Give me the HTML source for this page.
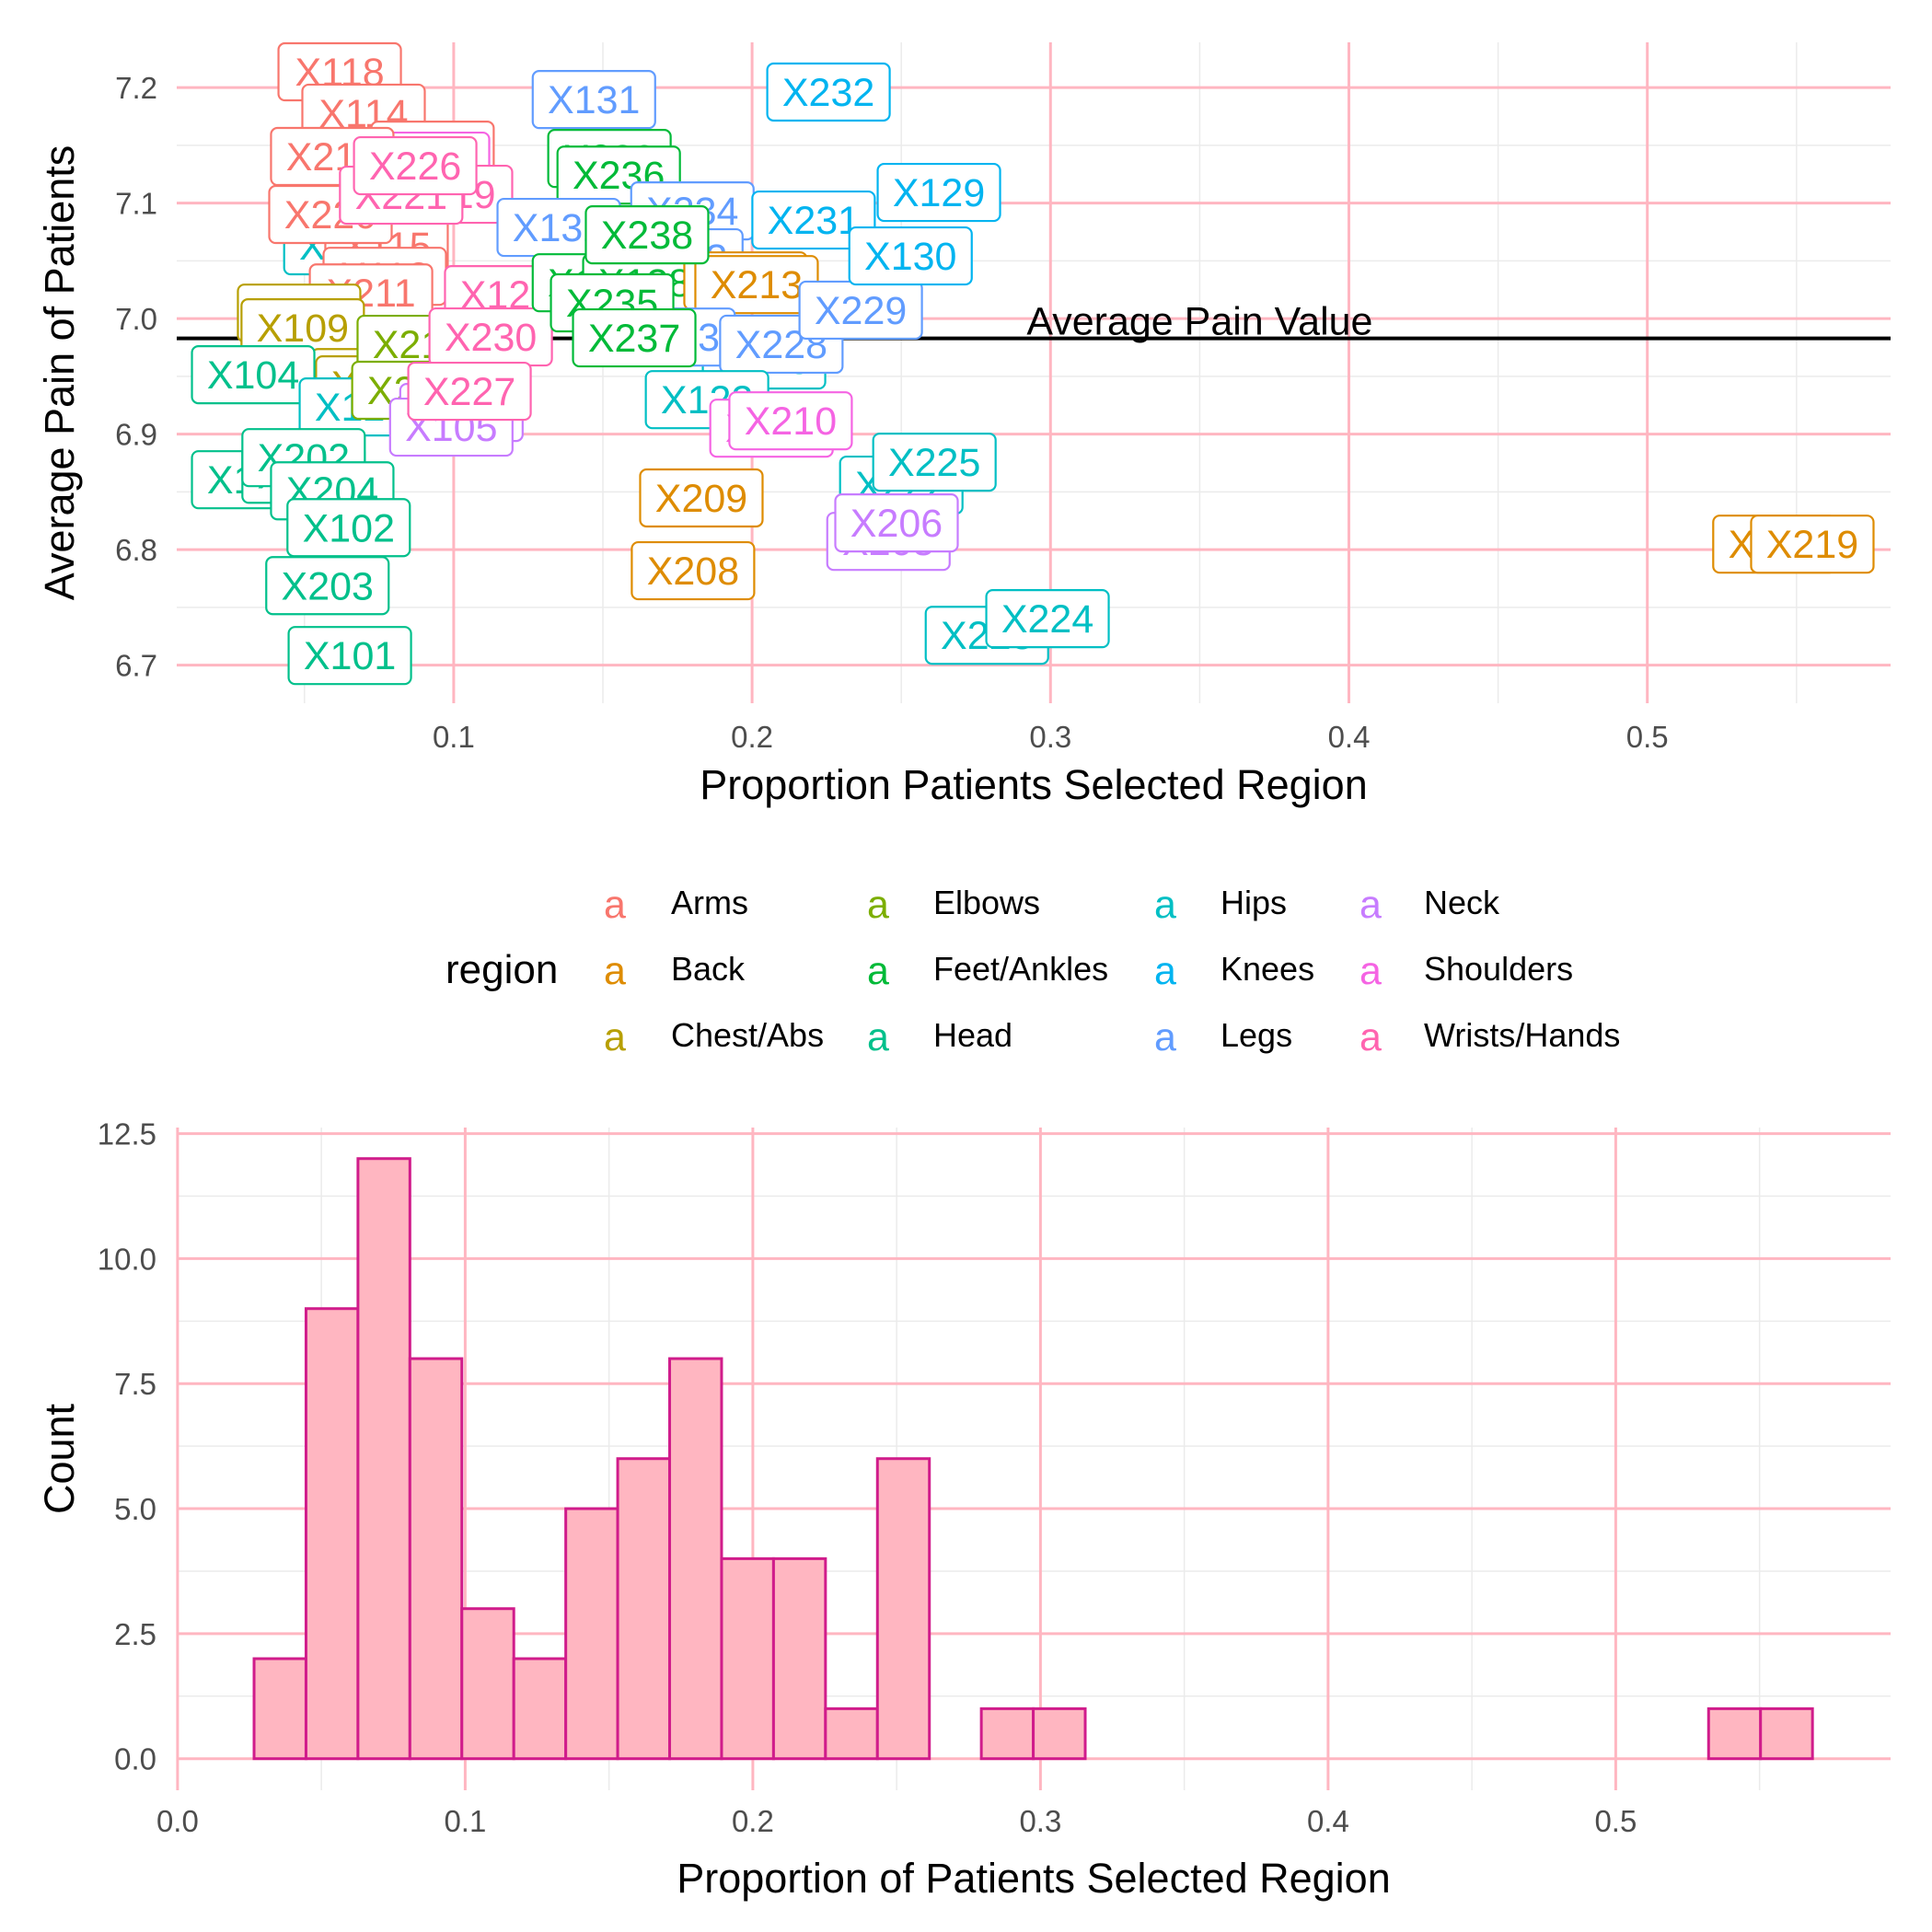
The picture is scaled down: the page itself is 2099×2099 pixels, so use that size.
<!DOCTYPE html>
<html><head><meta charset="utf-8"><style>
html,body{margin:0;padding:0;background:#fff;}
svg{display:block;font-family:"Liberation Sans",sans-serif;}
</style></head><body>
<svg id="chart" width="2099" height="2099" viewBox="0 0 2099 2099">
<g id="topPanel"></g>
<g id="legend"></g>
<g id="hist"></g>
</svg>
<script>
// ---- scatter (label) data ----
const labelNames = ["X127","X115","X220","X118","X114","X116","X117","X215","X119","X221","X226","X112","X211","X110","X109","X120","X107","X108","X104","X124","X212","X214","X230","X106","X105","X227","X103","X201","X202","X204","X102","X203","X101","X131","X239","X236","X234","X132","X133","X137","X138","X216","X213","X238","X123","X233","X235","X237","X228","X229","X232","X129","X231","X130","X122","X207","X210","X209","X208","X222","X225","X205","X206","X223","X224","X218","X219"];
const labelRegions = ["Hips","Arms","Arms","Arms","Arms","Arms","Shoulders","Arms","Wrists/Hands","Wrists/Hands","Wrists/Hands","Arms","Arms","Chest/Abs","Chest/Abs","Wrists/Hands","Chest/Abs","Chest/Abs","Head","Hips","Elbows","Elbows","Wrists/Hands","Neck","Neck","Wrists/Hands","Head","Head","Head","Head","Head","Head","Head","Legs","Feet/Ankles","Feet/Ankles","Legs","Legs","Legs","Feet/Ankles","Feet/Ankles","Back","Back","Feet/Ankles","Hips","Legs","Feet/Ankles","Feet/Ankles","Legs","Legs","Knees","Knees","Knees","Knees","Hips","Shoulders","Shoulders","Back","Back","Hips","Hips","Neck","Neck","Hips","Hips","Back","Back"];
const labelProp = [0.0637,0.0775,0.0587,0.0618,0.0698,0.0929,0.0914,0.0593,0.0991,0.0824,0.0871,0.0769,0.0723,0.0482,0.0494,0.1176,0.0729,0.0744,0.0328,0.0689,0.0883,0.0865,0.1124,0.1026,0.0992,0.1053,0.0328,0.0497,0.0497,0.0593,0.0648,0.0577,0.0652,0.1470,0.1522,0.1553,0.1800,0.1352,0.1763,0.1470,0.1639,0.1978,0.2015,0.1648,0.2040,0.1737,0.1531,0.1605,0.2098,0.2364,0.2256,0.2626,0.2206,0.2531,0.1849,0.2065,0.2129,0.1830,0.1802,0.2500,0.2611,0.2457,0.2484,0.2787,0.2990,0.5426,0.5553];
const labelPain = [7.0630,7.0630,7.0901,7.2136,7.1778,7.1458,7.1363,7.1403,7.1076,7.1068,7.1323,7.0366,7.0222,7.0047,6.9920,7.0207,6.9489,6.9426,6.9514,6.9235,6.9777,6.9379,6.9841,6.9187,6.9060,6.9371,6.8605,6.8652,6.8796,6.8509,6.8190,6.7688,6.7083,7.1896,7.1386,7.1242,7.0932,7.0789,7.0526,7.0310,7.0310,7.0326,7.0294,7.0725,6.9641,6.9840,7.0136,6.9833,6.9778,7.0073,7.1961,7.1092,7.0853,7.0542,6.9298,6.9051,6.9115,6.8447,6.7817,6.8558,6.8757,6.8071,6.8231,6.7258,6.7402,6.8047,6.8047];
const avgPain = 6.9828;
const topXTicks = [0.1,0.2,0.3,0.4,0.5];
const topXTickLabels = ["0.1","0.2","0.3","0.4","0.5"];
const topYTicks = [6.7,6.8,6.9,7.0,7.1,7.2];
const topYTickLabels = ["6.7","6.8","6.9","7.0","7.1","7.2"];
// ---- legend data ----
const regions = ["Arms","Back","Chest/Abs","Elbows","Feet/Ankles","Head","Hips","Knees","Legs","Neck","Shoulders","Wrists/Hands"];
const regionColors = ["#F8766D","#DE8C00","#B79F00","#7CAE00","#00BA38","#00C08B","#00BFC4","#00B4F0","#619CFF","#C77CFF","#F564E3","#FF64B0"];
// ---- histogram data ----
const binStart = 0.0266;
const binWidth = 0.01806;
const binCounts = [2,9,12,8,3,2,5,6,8,4,4,1,6,0,1,1,0,0,0,0,0,0,0,0,0,0,0,0,1,1];
const histXTicks = [0.0,0.1,0.2,0.3,0.4,0.5];
const histXTickLabels = ["0.0","0.1","0.2","0.3","0.4","0.5"];
const histYTicks = [0,2.5,5,7.5,10,12.5];
const histYTickLabels = ["0.0","2.5","5.0","7.5","10.0","12.5"];

const NS="http://www.w3.org/2000/svg";
function mk(parent,tag,attrs,text){const e=document.createElementNS(NS,tag);for(const k in attrs)e.setAttribute(k,attrs[k]);if(text!==undefined)e.textContent=text;parent.appendChild(e);return e;}

// ---------- TOP PANEL ----------
const T={l:192,r:2054,t:46,b:764};
const tx=v=>168.7+v*3242;
const ty=v=>346.1-(v-7.0)*1255;
const topG=document.getElementById('topPanel');
for(let v=0.05;v<0.58;v+=0.1){const x=tx(v);let e=mk(topG,'line',{x1:x,x2:x,y1:T.t,y2:T.b,stroke:'#EBEBEB','stroke-width':1.5});

}
for(let v=6.75;v<7.2;v+=0.1){const y=ty(v);let e=mk(topG,'line',{x1:T.l,x2:T.r,y1:y,y2:y,stroke:'#EBEBEB','stroke-width':1.5});

}
topXTicks.forEach((v,i)=>{const x=tx(v);let e=mk(topG,'line',{x1:x,x2:x,y1:T.t,y2:T.b,stroke:'#FFB6C1','stroke-width':3});


let t=mk(topG,'text',{x:x,y:812,'text-anchor':'middle','font-size':33,fill:'#4D4D4D'},topXTickLabels[i]);

});
topYTicks.forEach((v,i)=>{const y=ty(v);let e=mk(topG,'line',{x1:T.l,x2:T.r,y1:y,y2:y,stroke:'#FFB6C1','stroke-width':3});


let t=mk(topG,'text',{x:171,y:y+12,'text-anchor':'end','font-size':33,fill:'#4D4D4D'},topYTickLabels[i]);

});
{const y=ty(avgPain);let e=mk(topG,'line',{x1:T.l,x2:T.r,y1:y,y2:y,stroke:'#000','stroke-width':4});


let t=mk(topG,'text',{x:tx(0.35),y:y-4,'text-anchor':'middle','font-size':43,fill:'#000'},'Average Pain Value');

}
labelNames.forEach((n,i)=>{const col=regionColors[regions.indexOf(labelRegions[i])]||'#888';
const cx=tx(labelProp[i]),cy=ty(labelPain[i]);
const g=mk(topG,'g',{});


mk(g,'rect',{x:cx-66.5,y:cy-31,width:133,height:62,rx:7,fill:'#fff',stroke:col,'stroke-width':2.2});
mk(g,'text',{x:cx,y:cy+15,'text-anchor':'middle','font-size':43,fill:col},n);});
{let t=mk(topG,'text',{x:1123,y:868,'text-anchor':'middle','font-size':45,fill:'#000'},'Proportion Patients Selected Region');


let t2=mk(topG,'text',{x:80,y:405,'text-anchor':'middle','font-size':45,fill:'#000',transform:'rotate(-90 80 405)'},'Average Pain of Patients');

}

// ---------- LEGEND ----------
const lg=document.getElementById('legend');
{let t=mk(lg,'text',{x:484,y:1068,'font-size':44,fill:'#000'},'region');

}
const colKeyX=[668,954,1266,1489], colLabX=[729,1014,1326,1547], rowY=[993,1065,1137];
regions.forEach((r,i)=>{const c=Math.floor(i/3),row=i%3;
const g=mk(lg,'g',{});


mk(g,'text',{x:colKeyX[c],y:rowY[row]+4,'text-anchor':'middle','font-size':43,fill:regionColors[i]},'a');
mk(g,'text',{x:colLabX[c],y:rowY[row],'font-size':36,fill:'#000'},r);});

// ---------- HISTOGRAM ----------
const H={l:192,r:2054,t:1225,b:1945};
const hx=v=>192.9+v*3125;
const hy=v=>1910.7-v*54.33;
const histG=document.getElementById('hist');
for(let v=0.05;v<0.6;v+=0.1){const x=hx(v);let e=mk(histG,'line',{x1:x,x2:x,y1:H.t,y2:H.b,stroke:'#EBEBEB','stroke-width':1.5});

}
for(let v=1.25;v<13;v+=2.5){const y=hy(v);let e=mk(histG,'line',{x1:H.l,x2:H.r,y1:y,y2:y,stroke:'#EBEBEB','stroke-width':1.5});

}
histXTicks.forEach((v,i)=>{const x=hx(v);let e=mk(histG,'line',{x1:x,x2:x,y1:H.t,y2:H.b,stroke:'#FFB6C1','stroke-width':3});


let t=mk(histG,'text',{x:x,y:1990,'text-anchor':'middle','font-size':33,fill:'#4D4D4D'},histXTickLabels[i]);

});
histYTicks.forEach((v,i)=>{const y=hy(v);let e=mk(histG,'line',{x1:H.l,x2:H.r,y1:y,y2:y,stroke:'#FFB6C1','stroke-width':3});


let t=mk(histG,'text',{x:170,y:y+12,'text-anchor':'end','font-size':33,fill:'#4D4D4D'},histYTickLabels[i]);

});
binCounts.forEach((c,i)=>{const x0=hx(binStart+i*binWidth),x1=hx(binStart+(i+1)*binWidth);
const y=hy(c),y0=hy(0);
let e=mk(histG,'rect',{x:x0,y:Math.min(y,y0),width:x1-x0,height:Math.abs(y0-y),fill:'#FFB6C1',stroke:'#D01C8B','stroke-width':3});

});
{let t=mk(histG,'text',{x:1123,y:2056,'text-anchor':'middle','font-size':45,fill:'#000'},'Proportion of Patients Selected Region');


let t2=mk(histG,'text',{x:80,y:1585,'text-anchor':'middle','font-size':45,fill:'#000',transform:'rotate(-90 80 1585)'},'Count');

}
</script>
</body></html>
